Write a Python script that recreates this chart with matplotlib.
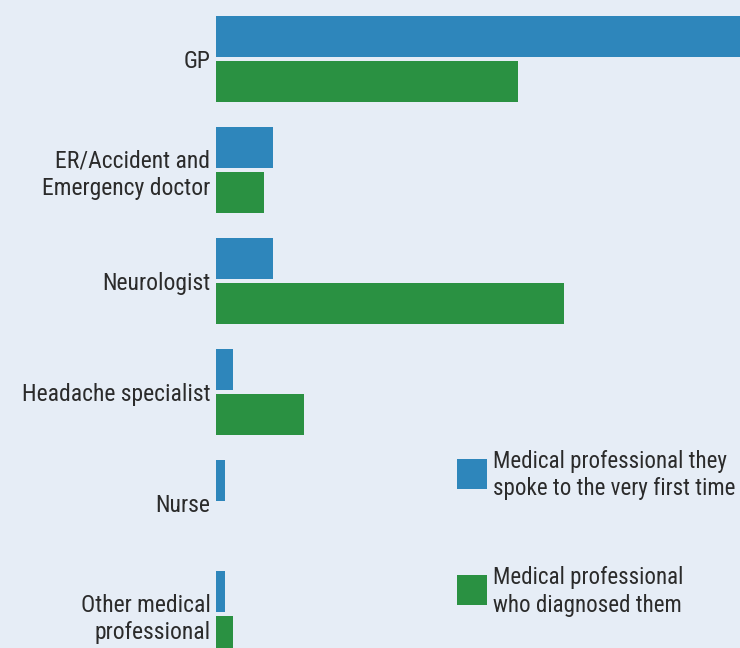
import matplotlib
matplotlib.use("Agg")
import matplotlib.pyplot as plt
from matplotlib.patches import Patch
import numpy as np

categories = ["GP", "ER/Accident and\nEmergency doctor", "Neurologist",
              "Headache specialist", "Nurse", "Other medical\nprofessional"]
first_contact = [60.0, 6.0, 6.0, 1.8, 1.0, 1.0]
diagnosed = [31.8, 5.1, 36.7, 9.3, 0.0, 1.8]
legend_labels = ["Medical professional they\nspoke to the very first time",
                 "Medical professional\nwho diagnosed them"]

BG = "#e6edf6"
BLUE = "#2e86bb"
GREEN = "#2a9142"
TXT = "#2b2b2b"

plt.rcParams['font.family'] = ['Roboto Condensed', 'Liberation Sans', 'DejaVu Sans']

fig = plt.figure(figsize=(7.4, 6.48), dpi=100, facecolor=BG)
ax = fig.add_axes([216/740, 0, 524/740, 1], facecolor=BG)

y = np.arange(len(categories))
h = 0.369
off = 0.2027
ax.barh(y - off, first_contact, height=h, color=BLUE, linewidth=0)
ax.barh(y + off, diagnosed, height=h, color=GREEN, linewidth=0)

ax.set_ylim(5.306, -0.5315)
ax.set_xlim(0, 55.2)
ax.set_yticks(y)
ax.set_yticklabels(categories, fontsize=17, color=TXT, linespacing=1.25)
ax.tick_params(axis='y', length=0, pad=4)
ax.set_xticks([])
for s in ax.spines.values():
    s.set_visible(False)

handles = [Patch(facecolor=BLUE, linewidth=0), Patch(facecolor=GREEN, linewidth=0)]
leg = ax.legend(handles, legend_labels, loc='upper left',
                bbox_to_anchor=((457-216)/524, 1 - 450/648),
                frameon=False, fontsize=16.6, labelspacing=2.85,
                handlelength=1.3, handleheight=1.3, handletextpad=0.25,
                borderpad=0, borderaxespad=0)
for t in leg.get_texts():
    t.set_color(TXT)
    t.set_linespacing(1.25)
for p in leg.get_patches():
    p.set_height(30 * 72 / 100)
    p.set_width(30 * 72 / 100)

fig.savefig("out.png", dpi=100, facecolor=BG)
